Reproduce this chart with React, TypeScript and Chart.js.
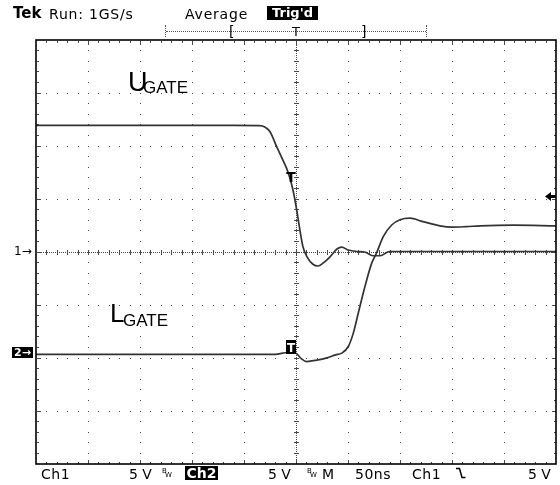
import React, { useEffect, useRef } from "react";
import { Chart, registerables } from "chart.js";

Chart.register(...registerables);

// ---- Scope settings ----
const NS_PER_DIV = 50;
const X_MIN = -250;
const X_MAX = 250;
const CH1_V_PER_DIV = 5;
const CH2_V_PER_DIV = 5;
const CH1_OFFSET_DIV = 0;
const CH2_OFFSET_DIV = -1.94;
const TRIG_LEVEL = 5.2; // volts on Ch1

// ---- Ch1: U_GATE (time in ns, volts) ----
const uTime = [-250, -60, -35, -30, -25, -18.6, -12.5, -7.7, -2.9, 0.7, 3.8, 6.7, 10.6, 16.3, 21.2, 26, 32.7, 39.4, 44, 50, 58.7, 66, 74, 80.8, 90, 120, 250];
const uVolt = [11.9, 11.9, 11.88, 11.75, 11.3, 9.9, 8.6, 7.5, 5.8, 3.9, 2.0, 0.45, -0.5, -1.2, -1.37, -1.1, -0.5, 0.24, 0.42, 0.14, 0, -0.05, -0.4, -0.4, 0, 0, 0];

// ---- Ch2: L_GATE (time in ns, volts) ----
const lTime = [-250, -20, -8, 0, 5, 10.3, 20, 29.8, 38, 44, 50.3, 55.1, 59.9, 66.3, 72.8, 77.6, 83.9, 92, 100, 109.6, 122, 138.5, 149.7, 164, 177, 208.7, 250];
const lVolt = [0, 0, 0.17, 0.1, -0.4, -0.68, -0.55, -0.33, -0.05, 0.11, 0.74, 2.0, 3.9, 6.4, 8.6, 9.6, 11.1, 12.2, 12.7, 12.84, 12.52, 12.12, 12.0, 12.05, 12.12, 12.18, 12.12];

const TRACE_COLOR = "#333";
const GRID_COLOR = "#4a4a4a";

const rangeFor = (vpd: number, off: number) => ({ min: (-4 - off) * vpd, max: (4 - off) * vpd });

const graticule = {
  id: "graticule",
  beforeDatasetsDraw(chart: any) {
    const { ctx, chartArea: a, scales } = chart;
    const xs = scales.x;
    const ys = scales.y1;
    const px = (t: number) => Math.round(xs.getPixelForValue(t));
    const py = (v: number) => Math.round(ys.getPixelForValue(v));
    const y1r = rangeFor(CH1_V_PER_DIV, CH1_OFFSET_DIV);
    const top = Math.round(a.top), bottom = Math.round(a.bottom), left = Math.round(a.left), right = Math.round(a.right);
    ctx.save();
    ctx.fillStyle = GRID_COLOR;
    const xMinor: number[] = [];
    for (let i = 1; i < 50; i++) xMinor.push(X_MIN + (i * NS_PER_DIV) / 5);
    const yMinor: number[] = [];
    for (let i = 1; i < 40; i++) yMinor.push(y1r.min + (i * CH1_V_PER_DIV) / 5);
    // vertical division lines
    for (let k = 1; k < 10; k++) {
      const x = px(X_MIN + k * NS_PER_DIV);
      if (k === 5) {
        for (let y = top + 1; y < bottom; y += 2) ctx.fillRect(x, y, 1, 1);
        yMinor.forEach((v) => ctx.fillRect(x - 2, py(v), 5, 1));
      } else {
        yMinor.forEach((v) => ctx.fillRect(x, py(v), 1, 1));
      }
    }
    // horizontal division lines
    for (let k = 1; k < 8; k++) {
      const y = py(y1r.min + k * CH1_V_PER_DIV);
      if (k === 4) {
        for (let x = left + 1; x < right; x += 2) ctx.fillRect(x, y, 1, 1);
        xMinor.forEach((t) => ctx.fillRect(px(t), y - 2, 1, 5));
      } else {
        xMinor.forEach((t) => ctx.fillRect(px(t), y, 1, 1));
      }
    }
    // border ticks
    xMinor.forEach((t, i) => {
      const len = (i + 1) % 5 === 0 ? 4 : 2;
      const x = px(t);
      ctx.fillRect(x, top + 1, 1, len);
      ctx.fillRect(x, bottom - len, 1, len);
    });
    yMinor.forEach((v, i) => {
      const len = (i + 1) % 5 === 0 ? 4 : 2;
      const y = py(v);
      ctx.fillRect(left + 1, y, len, 1);
      ctx.fillRect(right - len, y, len, 1);
    });
    ctx.restore();
  },
  afterDatasetsDraw(chart: any) {
    const { ctx, chartArea: a, scales } = chart;
    const xs = scales.x;
    const y1 = scales.y1;
    const y2 = scales.y2;
    ctx.save();
    // border
    ctx.strokeStyle = "#000";
    ctx.lineWidth = 1.6;
    ctx.strokeRect(Math.round(a.left), Math.round(a.top), Math.round(a.right - a.left), Math.round(a.bottom - a.top));
    // trigger level arrow on right
    const ty = Math.round(y1.getPixelForValue(TRIG_LEVEL)) + 0.5;
    const r = Math.round(a.right);
    ctx.fillStyle = "#000";
    ctx.beginPath();
    ctx.moveTo(r - 11, ty);
    ctx.lineTo(r - 5, ty - 4.5);
    ctx.lineTo(r - 5, ty + 4.5);
    ctx.closePath();
    ctx.fill();
    ctx.fillRect(r - 6, ty - 1.5, 6, 3);
    // trigger marker on Ch1 trace
    const tx = Math.round(xs.getPixelForValue(0));
    ctx.font = 'bold 14px "DejaVu Sans"';
    ctx.textAlign = "center";
    ctx.textBaseline = "alphabetic";
    ctx.fillText("T", tx - 5, Math.round(y1.getPixelForValue(6.6)));
    // trigger marker on Ch2 trace
    const g2 = Math.round(y2.getPixelForValue(0));
    ctx.fillRect(tx - 10, g2 - 14, 10, 14);
    ctx.fillStyle = "#fff";
    ctx.font = 'bold 12px "DejaVu Sans"';
    ctx.fillText("T", tx - 5, g2 - 2);
    ctx.restore();
  },
};

function Txt(props: { x: number; base: number; size: number; font?: string; bold?: boolean; ls?: number; color?: string; children: any }) {
  const { x, base, size, font = "DejaVu Sans", bold, ls = 0, color = "#000", children } = props;
  return (
    <span
      style={{
        position: "absolute",
        left: x,
        top: base - 0.846 * size,
        fontFamily: `"${font}", sans-serif`,
        fontSize: size,
        lineHeight: `${size}px`,
        fontWeight: bold ? "bold" : "normal",
        letterSpacing: ls,
        color,
        whiteSpace: "pre",
      }}
    >
      {children}
    </span>
  );
}

function Box(props: { x: number; y: number; w: number; h: number; size: number; children: any }) {
  const { x, y, w, h, size, children } = props;
  return (
    <div
      style={{
        position: "absolute",
        left: x,
        top: y,
        width: w,
        height: h,
        background: "#000",
        color: "#fff",
        display: "flex",
        alignItems: "center",
        justifyContent: "center",
        fontFamily: '"DejaVu Sans", sans-serif',
        fontWeight: "bold",
        fontSize: size,
        lineHeight: `${h}px`,
        whiteSpace: "pre",
      }}
    >
      {children}
    </div>
  );
}

export default function App() {
  const ref = useRef<HTMLCanvasElement | null>(null);

  useEffect(() => {
    if (!ref.current) return;
    const r1 = rangeFor(CH1_V_PER_DIV, CH1_OFFSET_DIV);
    const r2 = rangeFor(CH2_V_PER_DIV, CH2_OFFSET_DIV);
    const chart = new Chart(ref.current, {
      type: "line",
      data: {
        datasets: [
          {
            label: "UGATE",
            data: uTime.map((t, i) => ({ x: t, y: uVolt[i] })),
            yAxisID: "y1",
            borderColor: TRACE_COLOR,
            borderWidth: 1.7,
            pointRadius: 0,
            cubicInterpolationMode: "monotone",
          },
          {
            label: "LGATE",
            data: lTime.map((t, i) => ({ x: t, y: lVolt[i] })),
            yAxisID: "y2",
            borderColor: TRACE_COLOR,
            borderWidth: 1.7,
            pointRadius: 0,
            cubicInterpolationMode: "monotone",
          },
        ],
      },
      options: {
        animation: false,
        responsive: false,
        devicePixelRatio: 1,
        layout: { padding: { left: 36, right: 4, top: 39.5, bottom: 21.5 } },
        plugins: { legend: { display: false }, tooltip: { enabled: false } },
        scales: {
          x: { type: "linear", min: X_MIN, max: X_MAX, display: false },
          y1: { type: "linear", min: r1.min, max: r1.max, display: false },
          y2: { type: "linear", min: r2.min, max: r2.max, display: false },
        },
      },
      plugins: [graticule],
    } as any);
    return () => chart.destroy();
  }, []);

  return (
    <div style={{ position: "absolute", left: 0, top: 0, width: 560, height: 485, background: "#fff", overflow: "hidden" }}>
      <canvas ref={ref} width={560} height={485} style={{ position: "absolute", left: 0, top: 0 }} />

      {/* header */}
      <Txt x={13} base={19} size={15} bold>Tek</Txt>
      <Txt x={49} base={19} size={14} ls={0.8}>Run: 1GS/s</Txt>
      <Txt x={185} base={19} size={14} ls={0.8}>Average</Txt>
      <Box x={267} y={6} w={51} h={14} size={13}>Trig'd</Box>

      {/* record bar */}
      <div style={{ position: "absolute", left: 165, top: 25, width: 0, height: 12, borderLeft: "1px dotted #555" }} />
      <div style={{ position: "absolute", left: 426, top: 25, width: 0, height: 12, borderLeft: "1px dotted #555" }} />
      <div style={{ position: "absolute", left: 166, top: 31, width: 260, height: 0, borderTop: "1px dotted #555" }} />
      <Txt x={229} base={36} size={14}>[</Txt>
      <Txt x={292} base={36} size={13}>T</Txt>
      <Txt x={361} base={36} size={14}>]</Txt>

      {/* channel ground markers */}
      <Txt x={14} base={255.5} size={12}>1→</Txt>
      <Box x={12} y={347} w={21} h={11} size={11}>2→</Box>

      {/* trace labels */}
      <Txt x={128} base={92} size={27} font="Liberation Sans">U</Txt>
      <Txt x={143} base={93.5} size={17} font="Liberation Sans">GATE</Txt>
      <Txt x={110} base={322} size={26} font="Liberation Sans">L</Txt>
      <Txt x={123} base={326} size={17} font="Liberation Sans">GATE</Txt>

      {/* footer */}
      <Txt x={41} base={478.5} size={14} ls={0.5}>Ch1</Txt>
      <Txt x={129} base={478.5} size={14}>5 V</Txt>
      <Txt x={162} base={474} size={7}>B</Txt>
      <Txt x={165} base={478} size={7}>W</Txt>
      <Box x={185} y={466} w={33} h={14} size={14}>Ch2</Box>
      <Txt x={268} base={478.5} size={14}>5 V</Txt>
      <Txt x={307} base={474} size={7}>B</Txt>
      <Txt x={310} base={478} size={7}>W</Txt>
      <Txt x={322} base={478.5} size={14}>M</Txt>
      <Txt x={355} base={478.5} size={14} ls={0.5}>50ns</Txt>
      <Txt x={412} base={478.5} size={14} ls={0.5}>Ch1</Txt>
      <svg style={{ position: "absolute", left: 456, top: 467 }} width={10} height={12}>
        <polyline points="0,1.5 3.5,1.5 6,10.5 9.5,10.5" fill="none" stroke="#000" strokeWidth={1.5} />
      </svg>
      <Txt x={528} base={478.5} size={14}>5 V</Txt>
    </div>
  );
}
